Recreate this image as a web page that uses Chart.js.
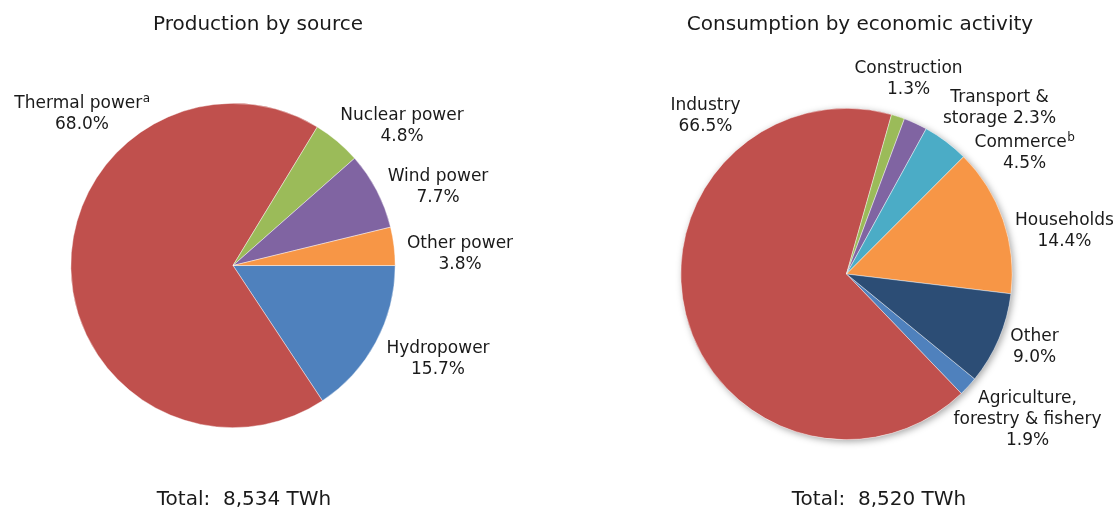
<!DOCTYPE html>
<html>
<head>
<meta charset="utf-8">
<script src="https://cdn.jsdelivr.net/npm/chart.js@4.4.1/dist/chart.umd.min.js"></script>
<style>
  html, body { margin: 0; padding: 0; background: #fff; }
  body { width: 1116px; height: 507px; position: relative; overflow: hidden;
         font-family: "DejaVu Sans", Verdana, sans-serif; color: #1a1a1a; }
  .box { position: absolute; top: 0; width: 558px; height: 507px; }
  .txt { position: absolute; font-size: 20px; line-height: 24px; white-space: pre; transform: translateX(-50%); }
</style>
</head>
<body>
<div class="box" style="left:0"><canvas id="graficoProduccion"></canvas></div>
<div class="box" style="left:558px"><canvas id="graficoConsumo"></canvas></div>
<div class="txt" style="left:258px; top:11px">Production by source</div>
<div class="txt" style="left:860px; top:11px">Consumption by economic activity</div>
<div class="txt" style="left:244px; top:486px">Total:  8,534 TWh</div>
<div class="txt" style="left:879px; top:486px">Total:  8,520 TWh</div>
<script>
// ── Datos: producción por fuente ──
const fuentes        = ['Hydropower', 'Thermal power', 'Nuclear power', 'Wind power', 'Other power'];
const fuentesValores = [15.7, 68.0, 4.8, 7.7, 3.8];
const fuentesColores = ['#4F81BD', '#C0504D', '#9BBB59', '#8064A2', '#F79646'];

// ── Datos: consumo por actividad ──
const actividades        = ['Agriculture, forestry & fishery', 'Industry', 'Construction',
                            'Transport & storage', 'Commerce', 'Households', 'Other'];
const actividadesValores = [1.9, 66.5, 1.3, 2.3, 4.5, 14.4, 9.0];
const actividadesColores = ['#4F81BD', '#C0504D', '#9BBB59', '#8064A2', '#4BACC6', '#F79646', '#2C4D75'];

// Etiquetas: líneas de texto, superíndice y desplazamiento desde el centro
const etiquetasProduccion = [
    { lineas: ['Hydropower', '15.7%'],         dx: 205,  dy: 94 },
    { lineas: ['Thermal power', '68.0%'], sup: 'a', dx: -151, dy: -151 },
    { lineas: ['Nuclear power', '4.8%'],       dx: 169,  dy: -139 },
    { lineas: ['Wind power', '7.7%'],          dx: 205,  dy: -78 },
    { lineas: ['Other power', '3.8%'],         dx: 227,  dy: -11 }
];
const etiquetasConsumo = [
    { lineas: ['Agriculture,', 'forestry & fishery', '1.9%'], dx: 181, dy: 146 },
    { lineas: ['Industry', '66.5%'],              dx: -141, dy: -158 },
    { lineas: ['Construction', '1.3%'],           dx: 62,   dy: -195 },
    { lineas: ['Transport &', 'storage 2.3%'],    dx: 153,  dy: -166 },
    { lineas: ['Commerce', '4.5%'], sup: 'b',     dx: 178,  dy: -121 },
    { lineas: ['Households', '14.4%'],            dx: 218,  dy: -43 },
    { lineas: ['Other', '9.0%'],                  dx: 188,  dy: 73 }
];

const FUENTE = '"DejaVu Sans", Verdana, sans-serif';

// Plugin para dibujar etiquetas fuera del pastel
const pluginEtiquetas = {
    id: 'etiquetas',
    afterDatasetsDraw(chart, args, opts) {
        const ctx = chart.ctx;
        const arco = chart.getDatasetMeta(0).data[0];
        const lh = 21;
        ctx.save();
        ctx.fillStyle = '#1a1a1a';
        ctx.textBaseline = 'middle';
        opts.items.forEach(et => {
            const cx = arco.x + et.dx;
            const y0 = arco.y + et.dy - (et.lineas.length - 1) * lh / 2;
            et.lineas.forEach((linea, i) => {
                ctx.font = '17px ' + FUENTE;
                const w = ctx.measureText(linea).width;
                let wSup = 0;
                if (i === 0 && et.sup) {
                    ctx.font = '12px ' + FUENTE;
                    wSup = ctx.measureText(et.sup).width;
                }
                const x = cx - (w + wSup) / 2;
                ctx.font = '17px ' + FUENTE;
                ctx.textAlign = 'left';
                ctx.fillText(linea, x, y0 + i * lh);
                if (wSup) {
                    ctx.font = '12px ' + FUENTE;
                    ctx.fillText(et.sup, x + w + 0.5, y0 + i * lh - 5);
                }
            });
        });
        ctx.restore();
    }
};

// Plugin de sombra suave detrás del pastel
const pluginSombra = {
    id: 'sombra',
    beforeDatasetsDraw(chart, args, opts) {
        if (!opts.activo) return;
        const a = chart.getDatasetMeta(0).data[0];
        const ctx = chart.ctx;
        ctx.save();
        ctx.shadowColor = 'rgba(0,0,0,0.35)';
        ctx.shadowBlur = 7;
        ctx.shadowOffsetX = 2;
        ctx.shadowOffsetY = 2;
        ctx.fillStyle = '#fff';
        ctx.beginPath();
        ctx.arc(a.x, a.y, a.outerRadius, 0, Math.PI * 2);
        ctx.fill();
        ctx.restore();
    }
};

function dibujarPastel(id, etiquetas, valores, colores, rotacion, padding, items, sombra) {
    const ctx = document.getElementById(id).getContext('2d');
    return new Chart(ctx, {
        type: 'pie',
        data: {
            labels: etiquetas,
            datasets: [{
                data: valores,
                backgroundColor: colores,
                borderColor: 'rgba(255,255,255,0.6)',
                borderWidth: 0.7
            }]
        },
        options: {
            responsive: true,
            maintainAspectRatio: false,
            animation: false,
            rotation: rotacion,
            layout: { padding: padding },
            plugins: {
                legend: { display: false },
                tooltip: { enabled: false },
                etiquetas: { items: items },
                sombra: { activo: sombra }
            }
        },
        plugins: [pluginSombra, pluginEtiquetas]
    });
}

dibujarPastel('graficoProduccion', fuentes, fuentesValores, fuentesColores, 90,
    { left: 70.5, right: 162.5, top: 103, bottom: 79 }, etiquetasProduccion, false);

dibujarPastel('graficoConsumo', actividades, actividadesValores, actividadesColores, 129.3,
    { left: 122.5, right: 103.5, top: 108, bottom: 67 }, etiquetasConsumo, true);
</script>
</body>
</html>
